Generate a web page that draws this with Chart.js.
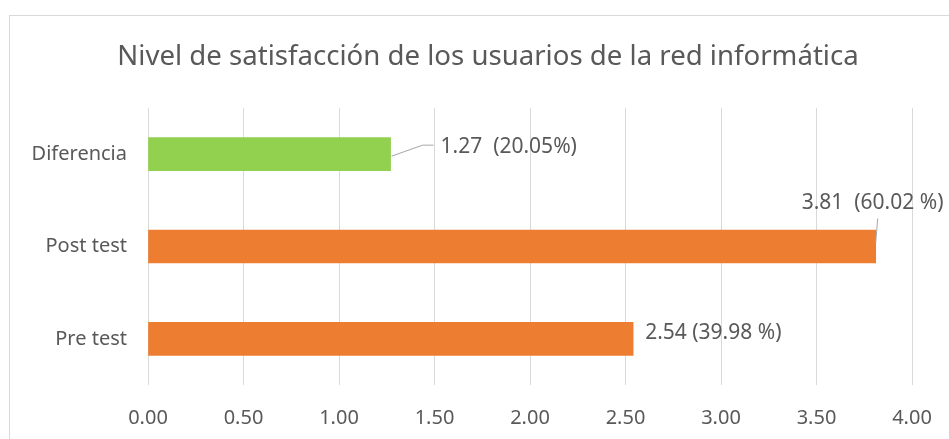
<!DOCTYPE html>
<html lang="es">
<head>
    <meta charset="UTF-8">
    <title>Nivel de satisfacción de los usuarios de la red informática</title>
    <script src="https://cdn.jsdelivr.net/npm/chart.js"></script>
    <style>
        html, body { margin: 0; padding: 0; background: #fff; }
        #wrap { width: 949px; height: 439px; position: relative; }
    </style>
</head>
<body>
    <div id="wrap"><canvas id="chart" width="949" height="439"></canvas></div>

    <script>
        // data
        const categories = ["Diferencia", "Post test", "Pre test"];
        const values = [1.27, 3.81, 2.54];
        const valueLabels = ["1.27  (20.05%)", "3.81  (60.02 %)", "2.54 (39.98 %)"];
        const barColors = ["#92d050", "#ed7d31", "#ed7d31"];
        const titleText = "Nivel de satisfacción de los usuarios de la red informática";

        const FONT = "'Noto Sans', 'Open Sans', sans-serif";
        const TEXT = "#595959";
        const GRID = "#d9d9d9";

        // frame + title (title is centred on the frame, not on the plot)
        const framePlugin = {
            id: 'frame',
            beforeDraw(chart) {
                const ctx = chart.ctx;
                ctx.save();
                ctx.fillStyle = '#fff';
                ctx.fillRect(0, 0, chart.width, chart.height);
                ctx.strokeStyle = GRID;
                ctx.lineWidth = 1;
                ctx.strokeRect(9.5, 15.5, 1000, 1000);
                ctx.font = "27.6px " + FONT;
                ctx.fillStyle = TEXT;
                ctx.textAlign = 'center';
                ctx.textBaseline = 'middle';
                ctx.fillText(titleText, 488, 57);
                ctx.restore();
            }
        };

        // value labels with little leader lines
        const labelPlugin = {
            id: 'valueLabels',
            afterDatasetsDraw(chart) {
                const ctx = chart.ctx;
                const bars = chart.getDatasetMeta(0).data;
                ctx.save();
                ctx.font = "21px " + FONT;
                ctx.fillStyle = TEXT;
                ctx.textBaseline = 'middle';
                ctx.strokeStyle = '#a6a6a6';
                ctx.lineWidth = 1;

                bars.forEach((bar, i) => {
                    const x = bar.x, y = bar.y;
                    if (i === 0) {
                        ctx.beginPath();
                        ctx.moveTo(x + 1, y + 2);
                        ctx.lineTo(x + 32, y - 9);
                        ctx.lineTo(x + 43, y - 9);
                        ctx.stroke();
                        ctx.fillText(valueLabels[i], x + 50, y - 7);
                    } else if (i === 1) {
                        ctx.beginPath();
                        ctx.moveTo(x + 2, y - 28);
                        ctx.lineTo(x, y - 4);
                        ctx.stroke();
                        ctx.fillText(valueLabels[i], x - 74, y - 43);
                    } else {
                        ctx.fillText(valueLabels[i], x + 12, y - 6);
                    }
                });
                ctx.restore();
            }
        };

        new Chart(document.getElementById('chart'), {
            type: 'bar',
            data: {
                labels: categories,
                datasets: [{
                    data: values,
                    backgroundColor: barColors,
                    borderWidth: 0,
                    barThickness: 33
                }]
            },
            options: {
                indexAxis: 'y',
                responsive: false,
                animation: false,
                layout: { padding: { left: 0, right: 37, top: 108, bottom: 0 } },
                plugins: {
                    legend: { display: false },
                    tooltip: { enabled: false },
                    title: { display: false }
                },
                scales: {
                    x: {
                        min: 0,
                        max: 4,
                        ticks: {
                            stepSize: 0.5,
                            color: TEXT,
                            font: { family: FONT, size: 20 },
                            padding: 21,
                            maxRotation: 0,
                            callback: v => Number(v).toFixed(2)
                        },
                        grid: { color: GRID, drawTicks: false },
                        border: { display: false },
                        afterFit(scale) {
                            scale.height = 54;
                            scale.paddingLeft = 0;
                            scale.paddingRight = 0;
                        }
                    },
                    y: {
                        ticks: {
                            color: TEXT,
                            font: { family: FONT, size: 20 },
                            padding: 21
                        },
                        grid: { display: false, drawTicks: false },
                        border: { display: false },
                        afterFit(scale) { scale.width = 148; }
                    }
                }
            },
            plugins: [framePlugin, labelPlugin]
        });
    </script>
</body>
</html>
